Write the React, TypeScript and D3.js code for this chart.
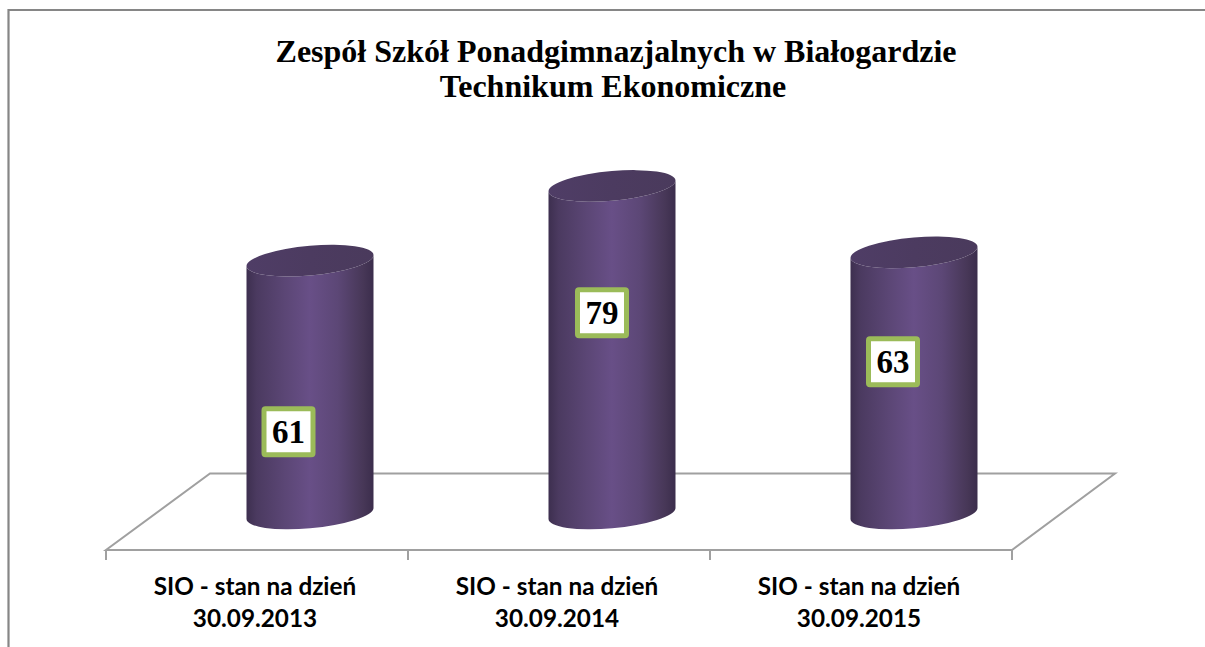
import React from "react";
import * as d3 from "d3";

const titleLines = ["Zespół Szkół Ponadgimnazjalnych w Białogardzie", "Technikum Ekonomiczne"];
const categoryDates = ["30.09.2013", "30.09.2014", "30.09.2015"];
const categoryPrefix = "SIO - stan na dzień";
const values = [61, 79, 63];
// Value-axis level at which each data label sits
const labelLevels = [19.7, 48.4, 36.6];

const W = 1205, H = 647;
const x = d3.scaleBand<string>().domain(categoryDates).range([106, 1012]).padding(0);
const y = d3.scaleLinear().domain([0, 100]).range([513.5, 98.9]);
const RX = 63.7, RY = 14.8, TILT = -5.2;
const DY = 5.5;

export default function App() {
  const bw = x.bandwidth();
  return (
    <svg width={W} height={H} style={{ position: "absolute", left: 0, top: 0, background: "#fff" }}>
      <defs>
        <linearGradient id="side" x1="0" x2="1" y1="0" y2="0">
          <stop offset="0" stopColor="#3d2f4f" />
          <stop offset="0.08" stopColor="#4b3a60" />
          <stop offset="0.3" stopColor="#5b4675" />
          <stop offset="0.5" stopColor="#684f87" />
          <stop offset="0.72" stopColor="#5c4776" />
          <stop offset="0.92" stopColor="#473757" />
          <stop offset="1" stopColor="#3b2d4c" />
        </linearGradient>
        <linearGradient id="cap" x1="0" x2="1" y1="0" y2="0">
          <stop offset="0" stopColor="#4f3d66" />
          <stop offset="0.5" stopColor="#4c3b60" />
          <stop offset="1" stopColor="#4a3a5c" />
        </linearGradient>
      </defs>

      <path d={`M8.5,${H}V10H${W}`} fill="none" stroke="#868686" strokeWidth={2.2} />

      {titleLines.map((t, i) => (
        <text key={t} x={616 - i * 3} y={61.5 + i * 35.5} textAnchor="middle"
          fontFamily="'Liberation Serif'" fontWeight={700} fontSize={32} fill="#000">{t}</text>
      ))}

      <path d="M106,550H1012L1115,473.5H210Z" fill="none" stroke="#a0a0a0" strokeWidth={2} />
      {[...categoryDates.map((c) => x(c)!), x(categoryDates[2])! + bw].map((t) => (
        <line key={t} x1={t} x2={t} y1={550} y2={560} stroke="#a0a0a0" strokeWidth={2} />
      ))}

      {values.map((v, i) => {
        const c = categoryDates[i];
        const cx = x(c)! + bw / 2 + 53;
        const base = y(0), top = y(v);
        const xl = cx - 63.5, xr = cx + 63.5;
        const side = `M${xl},${top + DY}L${xl},${base + DY}A${RX},${RY} ${TILT} 0 0 ${xr},${base - DY}L${xr},${top - DY}A${RX},${RY} ${TILT} 0 1 ${xl},${top + DY}Z`;
        const cap = `M${xl},${top + DY}A${RX},${RY} ${TILT} 0 1 ${xr},${top - DY}A${RX},${RY} ${TILT} 0 1 ${xl},${top + DY}Z`;
        const ly = y(labelLevels[i]);
        const lx = cx + (i === 0 ? -21.5 : i === 1 ? -10 : -21);
        return (
          <g key={c}>
            <path d={side} fill="url(#side)" />
            <path d={cap} fill="url(#cap)" />
            <rect x={lx - 24.5} y={ly - 23} width={49} height={46} rx={1.5} fill="#fff" stroke="#9bbb59" strokeWidth={5} strokeLinejoin="round" />
            <text x={lx} y={ly + 11} textAnchor="middle" fontFamily="'Liberation Serif'" fontWeight={700} fontSize={33} fill="#000">{v}</text>
          </g>
        );
      })}

      {categoryDates.map((c) => (
        <g key={c} fontFamily="Lato" fontWeight={700} fontSize={24.3} fill="#000" textAnchor="middle">
          <text x={x(c)! + bw / 2 - 2} y={594.5}>{categoryPrefix}</text>
          <text x={x(c)! + bw / 2 - 2} y={626.5}>{c}</text>
        </g>
      ))}
    </svg>
  );
}
